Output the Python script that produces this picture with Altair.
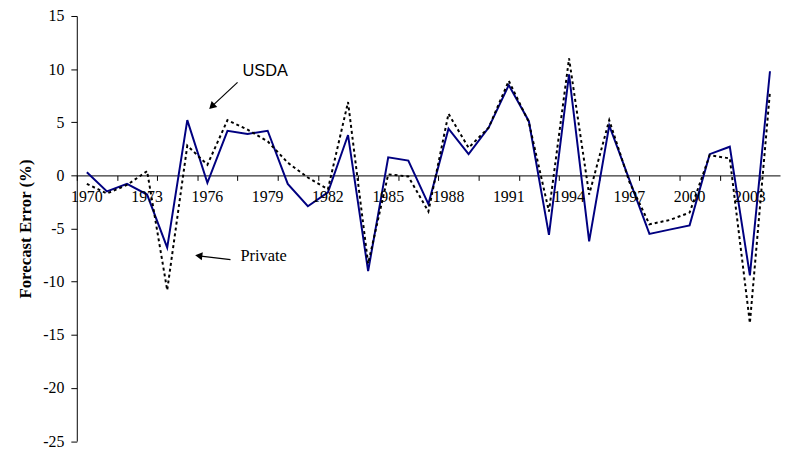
import altair as alt
import pandas as pd

years = list(range(1970, 2005))
usda = [0.3, -1.5, -0.8, -1.8, -6.8, 5.2, -0.7, 4.2, 3.9, 4.2,
        -0.8, -2.9, -1.6, 3.8, -9.0, 1.7, 1.4, -2.7, 4.4, 2.0,
        4.5, 8.5, 5.1, -5.6, 9.5, -6.2, 4.7, -0.4, -5.5, -5.1,
        -4.7, 2.0, 2.7, -9.4, 9.8]
private = [-0.8, -1.7, -0.9, 0.4, -10.8, 2.8, 1.0, 5.2, 4.3, 3.2,
           1.2, -0.2, -1.3, 6.9, -8.3, 0.1, -0.1, -3.4, 5.8, 2.6,
           4.5, 8.9, 5.0, -3.4, 11.0, -1.8, 5.2, -0.6, -4.6, -4.2,
           -3.5, 1.9, 1.6, -13.9, 7.9]
y_ticks = [-25, -20, -15, -10, -5, 0, 5, 10, 15]
x_label_years = [1970, 1973, 1976, 1979, 1982, 1985, 1988, 1991, 1994, 1997, 2000, 2003]
annot_labels = ["USDA", "Private"]

W, H = 710.5, 429.5
zero_px = H * 15 / 40

df = pd.DataFrame({
    "year": years * 2,
    "value": usda + private,
    "series": ["USDA"] * len(years) + ["Private"] * len(years),
})
lab_df = pd.DataFrame({"year": x_label_years, "lab": [str(y) for y in x_label_years]})

x_tick_values = [1969.5 + k for k in range(36)]

x_enc = alt.X(
    "year:Q",
    scale=alt.Scale(domain=[1969.5, 2004.5], nice=False, zero=False),
    axis=alt.Axis(
        values=x_tick_values,
        labels=False,
        offset=-(H - zero_px),
        tickSize=5,
        grid=False,
        title=None,
        domainColor="black",
        tickColor="black",
    ),
)
y_enc = alt.Y(
    "value:Q",
    scale=alt.Scale(domain=[-25, 15], nice=False, zero=False),
    axis=alt.Axis(
        values=y_ticks,
        labelExpr="toString(datum.value)",
        title="Forecast Error (%)",
        titleFont="Liberation Serif",
        titleFontSize=17,
        titleFontWeight="bold",
        titleColor="black",
        titlePadding=8,
        tickSize=6,
        labelPadding=7,
        grid=False,
        domainColor="black",
        tickColor="black",
        labelFont="Liberation Serif",
        labelFontSize=16,
        labelColor="black",
    ),
)

x_labels = alt.Chart(lab_df).mark_text(
    baseline="top", align="center", dy=14, font="Liberation Serif", fontSize=16, color="black"
).encode(x=alt.X("year:Q", scale=alt.Scale(domain=[1969.5, 2004.5], nice=False, zero=False)),
         y=alt.datum(0), text="lab:N")

base = alt.Chart(df)
usda_line = base.transform_filter("datum.series == 'USDA'").mark_line(
    color="#000080", strokeWidth=2
).encode(x=x_enc, y=y_enc)
priv_line = base.transform_filter("datum.series == 'Private'").mark_line(
    color="black", strokeWidth=2, strokeDash=[3, 3]
).encode(x="year:Q", y="value:Q")

ad = pd.DataFrame({"t": [annot_labels[0]]})
pdf = pd.DataFrame({"t": [annot_labels[1]]})

usda_text = alt.Chart(ad).mark_text(
    align="left", baseline="middle", font="Liberation Sans", fontSize=16.5, color="black"
).encode(x=alt.datum(1977.75), y=alt.datum(9.86), text="t:N")
priv_text = alt.Chart(pdf).mark_text(
    align="left", baseline="middle", font="Liberation Serif", fontSize=16.5, color="black"
).encode(x=alt.datum(1977.65), y=alt.datum(-7.62), text="t:N")

usda_arrow = alt.Chart(ad).mark_rule(color="black", strokeWidth=1.2).encode(
    x=alt.datum(1977.5), y=alt.datum(8.75), x2=alt.datum(1976.22), y2=alt.datum(6.49)
)
usda_head = alt.Chart(ad).mark_point(
    shape="triangle-up", filled=True, color="black", opacity=1, size=70, angle=227
).encode(x=alt.datum(1976.22), y=alt.datum(6.49))
priv_arrow = alt.Chart(pdf).mark_rule(color="black", strokeWidth=1.2).encode(
    x=alt.datum(1977.15), y=alt.datum(-7.92), x2=alt.datum(1975.57), y2=alt.datum(-7.565)
)
priv_head = alt.Chart(pdf).mark_point(
    shape="triangle-up", filled=True, color="black", opacity=1, size=70, angle=277
).encode(x=alt.datum(1975.57), y=alt.datum(-7.565))

chart = alt.layer(
    usda_line, x_labels, priv_line, usda_text, priv_text,
    usda_arrow, usda_head, priv_arrow, priv_head
).properties(
    width=W, height=H,
    autosize=alt.AutoSizeParams(type="none"),
    padding={"left": 69.5, "top": 5.8, "right": 2, "bottom": 5},
    background="white",
).configure_view(stroke=None)

chart.save("out.html", embed_options={"renderer": "svg", "actions": False})
